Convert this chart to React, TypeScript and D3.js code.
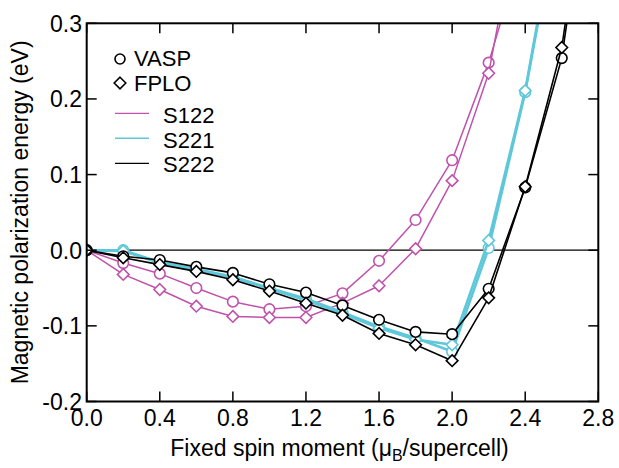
import React from "react";
import * as d3 from "d3";

const xValues = [0, 0.2, 0.4, 0.6, 0.8, 1.0, 1.2, 1.4, 1.6, 1.8, 2.0, 2.2, 2.4, 2.6, 2.8];

const s122Vasp = [0, -0.017, -0.031, -0.05, -0.068, -0.078, -0.074, -0.057, -0.014, 0.04, 0.119, 0.248, 0.41];
const s122Fplo = [0, -0.032, -0.052, -0.074, -0.0875, -0.089, -0.089, -0.07, -0.047, 0.002, 0.092, 0.234, 0.49];
const s221Vasp = [0, 0.0, -0.016, -0.025, -0.035, -0.05, -0.064, -0.082, -0.101, -0.116, -0.134, 0.003, 0.209, 0.47];
const s221Fplo = [0, -0.001, -0.017, -0.026, -0.036, -0.051, -0.066, -0.084, -0.103, -0.118, -0.125, 0.013, 0.211, 0.48];
const s222Vasp = [0, -0.008, -0.013, -0.022, -0.03, -0.045, -0.056, -0.073, -0.092, -0.108, -0.111, -0.051, 0.083, 0.254, 0.59];
const s222Fplo = [0, -0.01, -0.019, -0.028, -0.039, -0.054, -0.07, -0.086, -0.11, -0.125, -0.146, -0.063, 0.084, 0.268, 0.6];

const xTicks = [0, 0.4, 0.8, 1.2, 1.6, 2.0, 2.4, 2.8];
const yTicks = [-0.2, -0.1, 0.0, 0.1, 0.2, 0.3];

const seriesNames = ["S122", "S221", "S222"];
const methodNames = ["VASP", "FPLO"];

const W = 619;
const H = 468;
const M = { left: 86.7, right: 598.3, top: 23.3, bottom: 401.5 };
const FONT = "'Liberation Sans', Arial, Helvetica, sans-serif";

const colors: Record<string, string> = { S122: "#c052ac", S221: "#5ec7da", S222: "#000000" };
const widths: Record<string, number> = { S122: 1.5, S221: 2.6, S222: 1.6 };

export default function App() {
  const x = d3.scaleLinear().domain([0, 2.8]).range([M.left, M.right]);
  const y = d3.scaleLinear().domain([-0.2, 0.3]).range([M.bottom, M.top]);

  const seriesData: Record<string, number[][]> = {
    S122: [s122Vasp, s122Fplo],
    S221: [s221Vasp, s221Fplo],
    S222: [s222Vasp, s222Fplo],
  };

  const line = d3
    .line<[number, number]>()
    .x((d) => x(d[0]))
    .y((d) => y(d[1]));

  const diamond = (cx: number, cy: number, r: number) =>
    `M${cx},${cy - r}L${cx + r},${cy}L${cx},${cy + r}L${cx - r},${cy}Z`;

  const tickLen = 10;

  return (
    <svg
      width={W}
      height={H}
      style={{ position: "absolute", left: 0, top: 0, display: "block", background: "#fff" }}
      fontFamily={FONT}
    >
      <defs>
        <clipPath id="plotClip">
          <rect x={M.left} y={M.top} width={M.right - M.left} height={M.bottom - M.top} />
        </clipPath>
      </defs>

      {/* zero line */}
      <line x1={M.left} x2={M.right} y1={y(0)} y2={y(0)} stroke="#000" strokeWidth={1.2} />

      <g clipPath="url(#plotClip)">
        {seriesNames.map((name) =>
          seriesData[name].map((vals, mi) => {
            const pts: [number, number][] = vals.map((v, i) => [xValues[i], v]);
            return (
              <g key={name + mi}>
                <path d={line(pts) || ""} fill="none" stroke={colors[name]} strokeWidth={widths[name]} strokeLinejoin="round" />
                {pts.map((p, i) =>
                  mi === 0 ? (
                    <circle key={i} cx={x(p[0])} cy={y(p[1])} r={5.3} fill="#fff" stroke={colors[name]} strokeWidth={1.6} />
                  ) : (
                    <path key={i} d={diamond(x(p[0]), y(p[1]), 5.8)} fill="#fff" stroke={colors[name]} strokeWidth={1.6} />
                  )
                )}
              </g>
            );
          })
        )}
      </g>

      {/* frame */}
      <rect x={M.left} y={M.top} width={M.right - M.left} height={M.bottom - M.top} fill="none" stroke="#000" strokeWidth={2} />

      {/* ticks */}
      {xTicks.map((t) => (
        <g key={"xt" + t}>
          <line x1={x(t)} x2={x(t)} y1={M.bottom} y2={M.bottom - tickLen} stroke="#000" strokeWidth={1.5} />
          <line x1={x(t)} x2={x(t)} y1={M.top} y2={M.top + tickLen} stroke="#000" strokeWidth={1.5} />
          <text x={x(t)} y={426} textAnchor="middle" fontSize={23} fill="#000">
            {t.toFixed(1)}
          </text>
        </g>
      ))}
      {yTicks.map((t) => (
        <g key={"yt" + t}>
          <line x1={M.left} x2={M.left + tickLen} y1={y(t)} y2={y(t)} stroke="#000" strokeWidth={1.5} />
          <line x1={M.right} x2={M.right - tickLen} y1={y(t)} y2={y(t)} stroke="#000" strokeWidth={1.5} />
          <text x={82} y={y(t)} dy="0.36em" textAnchor="end" fontSize={23} fill="#000">
            {t.toFixed(1)}
          </text>
        </g>
      ))}

      {/* axis titles */}
      <text x={(M.left + M.right) / 2 - 3} y={456} textAnchor="middle" fontSize={23} fill="#000">
        Fixed spin moment (μ
        <tspan fontSize={16} dy={5}>B</tspan>
        <tspan dy={-5}>/supercell)</tspan>
      </text>
      <text
        transform={`translate(28, ${(M.top + M.bottom) / 2}) rotate(-90)`}
        textAnchor="middle"
        fontSize={23}
        fill="#000"
      >
        Magnetic polarization energy (eV)
      </text>

      {/* legend */}
      <g>
        <circle cx={120} cy={59} r={5} fill="#fff" stroke="#000" strokeWidth={1.6} />
        <text x={134} y={66} fontSize={22} fill="#000">{methodNames[0]}</text>
        <path d={diamond(120, 83, 5.8)} fill="#fff" stroke="#000" strokeWidth={1.6} />
        <text x={134} y={90.7} fontSize={22} fill="#000">{methodNames[1]}</text>
        {seriesNames.map((name, i) => (
          <g key={"lg" + name}>
            <line x1={115} x2={149} y1={113.3 + i * 25} y2={113.3 + i * 25} stroke={colors[name]} strokeWidth={name === "S221" ? 1.5 : 1.3} />
            <text x={163} y={122.7 + i * 24.8} fontSize={22} fill="#000">{name}</text>
          </g>
        ))}
      </g>
    </svg>
  );
}
